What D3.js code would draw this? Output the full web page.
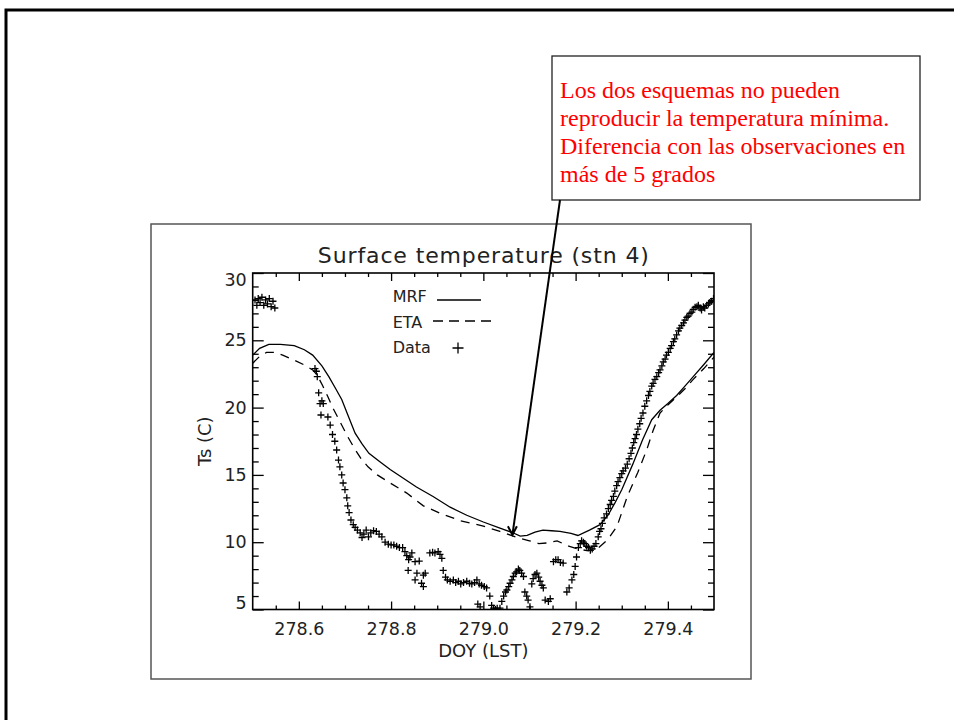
<!DOCTYPE html>
<html>
<head>
<meta charset="utf-8">
<script src="https://cdn.jsdelivr.net/npm/d3@7"></script>
<style>
body { margin: 0; background: #fff; }
.chart text { font-family: "DejaVu Sans", sans-serif; fill: #222; }
.chart .tick line { stroke: #000; stroke-width: 1.3; }
.chart .axis text { font-size: 17.5px; }
.chart .note text { font-family: "Liberation Serif", "Times New Roman", serif; fill: #ff0000; font-size: 24px; }
</style>
</head>
<body>
<div class="chart"></div>
<script>
// MRF model (solid)
var doyMRF = [278.500, 278.515, 278.535, 278.560, 278.590, 278.612, 278.630, 278.650, 278.665, 278.680,
  278.693, 278.708, 278.722, 278.737, 278.752, 278.775, 278.798, 278.820, 278.855, 278.891,
  278.928, 278.964, 279.000, 279.036, 279.064, 279.080, 279.095, 279.112, 279.129, 279.148,
  279.166, 279.190, 279.205, 279.230, 279.253, 279.270, 279.285, 279.300, 279.324, 279.345,
  279.365, 279.383, 279.400, 279.419, 279.437, 279.455, 279.478, 279.500];
var tsMRF = [23.9, 24.4, 24.7, 24.7, 24.6, 24.3, 23.9, 23.1, 22.3, 21.4,
  20.6, 19.3, 18.1, 17.3, 16.6, 16.0, 15.4, 14.9, 14.1, 13.4,
  12.6, 12.0, 11.5, 11.05, 10.7, 10.45, 10.5, 10.75, 10.9, 10.85,
  10.8, 10.65, 10.5, 10.9, 11.3, 12.0, 12.9, 13.9, 15.8, 17.6,
  19.1, 19.8, 20.3, 20.9, 21.6, 22.3, 23.2, 24.1];

// ETA model (dashed)
var doyETA = [278.500, 278.515, 278.530, 278.548, 278.565, 278.585, 278.610, 278.630, 278.640, 278.652,
  278.663, 278.675, 278.690, 278.705, 278.720, 278.735, 278.750, 278.770, 278.798, 278.834,
  278.870, 278.910, 278.950, 279.000, 279.036, 279.073, 279.100, 279.120, 279.140, 279.160,
  279.185, 279.205, 279.228, 279.250, 279.270, 279.290, 279.312, 279.335, 279.354, 279.368,
  279.383, 279.400, 279.419, 279.437, 279.455, 279.478, 279.500];
var tsETA = [23.3, 23.8, 24.1, 24.1, 23.9, 23.6, 23.2, 22.8, 22.4, 21.6,
  20.8, 19.9, 18.9, 17.9, 17.0, 16.2, 15.6, 15.0, 14.4, 13.65,
  12.7, 12.1, 11.6, 11.2, 10.8, 10.35, 10.1, 9.9, 9.95, 10.1,
  9.7, 9.5, 9.35, 9.6, 10.2, 11.2, 13.4, 15.2, 16.85, 18.3,
  19.6, 20.2, 20.8, 21.4, 22.1, 22.9, 23.75];

// observations (+)
var doyObs = [278.505, 278.509, 278.512, 278.516, 278.520, 278.524, 278.528, 278.532, 278.536, 278.540,
  278.544, 278.548, 278.635, 278.638, 278.640, 278.643, 278.646, 278.650, 278.653, 278.648,
  278.663, 278.668, 278.673, 278.678, 278.682, 278.686, 278.689, 278.693, 278.696, 278.700,
  278.704, 278.706, 278.709, 278.713, 278.718, 278.722, 278.727, 278.733, 278.737, 278.741,
  278.746, 278.751, 278.756, 278.762, 278.768, 278.774, 278.780, 278.787, 278.794, 278.800,
  278.806, 278.812, 278.818, 278.825, 278.830, 278.834, 278.838, 278.841, 278.837, 278.845,
  278.852, 278.856, 278.852, 278.861, 278.866, 278.870, 278.874, 278.870, 278.884, 278.890,
  278.895, 278.902, 278.906, 278.910, 278.913, 278.918, 278.922, 278.928, 278.935, 278.940,
  278.946, 278.951, 278.957, 278.964, 278.970, 278.975, 278.981, 278.986, 278.991, 278.996,
  279.002, 279.007, 279.014, 278.988, 278.993, 279.018, 279.022, 279.026, 279.030, 279.036,
  279.040, 279.044, 279.048, 279.051, 279.055, 279.058, 279.062, 279.065, 279.069, 279.072,
  279.076, 279.079, 279.083, 279.087, 279.090, 279.094, 279.097, 279.101, 279.105, 279.108,
  279.112, 279.116, 279.120, 279.123, 279.127, 279.130, 279.134, 279.141, 279.145, 279.152,
  279.157, 279.162, 279.167, 279.173, 279.181, 279.186, 279.192, 279.196, 279.199, 279.202,
  279.206, 279.210, 279.213, 279.217, 279.220, 279.224, 279.228, 279.232, 279.236, 279.240,
  279.244, 279.249, 279.252, 279.255, 279.258, 279.262, 279.267, 279.271, 279.275, 279.278,
  279.282, 279.285, 279.289, 279.292, 279.296, 279.300, 279.303, 279.308, 279.312, 279.316,
  279.320, 279.323, 279.326, 279.329, 279.332, 279.335, 279.339, 279.342, 279.346, 279.350,
  279.354, 279.358, 279.361, 279.365, 279.368, 279.372, 279.376, 279.380, 279.383, 279.387,
  279.390, 279.394, 279.397, 279.401, 279.405, 279.408, 279.412, 279.415, 279.419, 279.423,
  279.426, 279.430, 279.434, 279.437, 279.441, 279.444, 279.448, 279.452, 279.455, 279.459,
  279.463, 279.466, 279.470, 279.473, 279.477, 279.480, 279.484, 279.488, 279.491, 279.495,
  279.499];
var tsObs = [28.0, 27.6, 28.1, 27.8, 28.2, 27.6, 28.0, 27.7, 28.1, 27.5,
  27.9, 27.4, 22.9, 22.7, 22.3, 21.1, 20.3, 20.5, 20.3, 19.45,
  19.3, 18.7, 18.0, 17.5, 16.85, 16.1, 15.6, 15.0, 14.4, 13.9,
  13.3, 12.7, 12.2, 11.65, 11.3, 11.1, 10.9, 10.7, 10.35, 10.6,
  10.9, 10.4, 10.7, 10.85, 10.8, 10.6, 10.4, 10.0, 9.85, 9.8,
  9.8, 9.7, 9.6, 9.6, 9.3, 9.0, 8.7, 8.9, 7.9, 9.2,
  8.55, 7.7, 7.2, 8.6, 6.95, 7.55, 7.7, 6.7, 9.2, 9.25,
  9.2, 9.3, 9.1, 8.8, 7.9, 7.4, 7.2, 7.1, 7.2, 7.0,
  7.1, 6.9, 7.0, 7.1, 6.95, 6.9, 7.0, 7.2, 6.9, 6.8,
  6.7, 6.6, 6.0, 5.4, 5.2, 5.3, 5.1, 5.0, 5.1, 5.1,
  5.6, 6.0, 6.3, 6.45, 6.7, 6.95, 7.2, 7.45, 7.7, 7.8,
  8.0, 7.9, 7.7, 7.45, 6.3, 6.0, 5.7, 5.2, 6.9, 7.3,
  7.6, 7.7, 7.4, 7.1, 6.8, 6.6, 5.7, 5.6, 5.8, 8.55,
  8.7, 8.7, 8.5, 8.45, 6.3, 6.6, 7.2, 7.6, 8.2, 8.9,
  9.6, 9.9, 10.1, 10.0, 9.9, 9.7, 9.6, 9.4, 9.5, 9.7,
  9.9, 10.4, 10.8, 11.0, 11.4, 11.8, 12.1, 12.5, 12.8, 13.1,
  13.4, 13.8, 14.2, 14.5, 14.8, 15.1, 15.3, 15.5, 15.8, 16.2,
  16.6, 17.0, 17.4, 17.7, 18.0, 18.4, 18.8, 19.2, 19.6, 20.1,
  20.5, 20.9, 21.2, 21.6, 21.8, 22.1, 22.3, 22.6, 22.8, 23.1,
  23.4, 23.6, 23.9, 24.1, 24.4, 24.6, 24.9, 25.1, 25.4, 25.7,
  25.9, 26.1, 26.3, 26.5, 26.7, 26.8, 27.0, 27.1, 27.3, 27.45,
  27.5, 27.6, 27.4, 27.25, 27.5, 27.4, 27.6, 27.7, 27.8, 27.9,
  28.1];

var xTickValues = [278.6, 278.8, 279.0, 279.2, 279.4];
var yTickValues = [5, 10, 15, 20, 25, 30];
var legendLabels = ["MRF", "ETA", "Data"];
var titleText = "Surface temperature (stn 4)";
var xLabelText = "DOY (LST)";
var yLabelText = "Ts (C)";
var noteLines = ["Los dos esquemas no pueden",
  "reproducir la temperatura mínima.",
  "Diferencia con las observaciones en",
  "más de 5 grados"];
// point the arrow at the model minimum
var arrowTarget = [279.063, 10.55];

function drawChart() {
  var svg = d3.select(".chart").html("").append("svg")
      .attr("width", 954).attr("height", 720);

  svg.append("rect").attr("width", 954).attr("height", 720).attr("fill", "#fff");

  // outer slide frame
  svg.append("path")
      .attr("d", "M6,720V10H954")
      .attr("fill", "none").attr("stroke", "#000").attr("stroke-width", 3);

  // picture box
  svg.append("rect")
      .attr("x", 151).attr("y", 224).attr("width", 600).attr("height", 455)
      .attr("fill", "#fff").attr("stroke", "#555").attr("stroke-width", 1.5);

  var x = d3.scaleLinear().domain([278.5, 279.5]).range([252.7, 714]),
      y = d3.scaleLinear().domain([5, 30]).range([609.5, 273]);

  var x0 = x.range()[0], x1 = x.range()[1],
      y0 = y.range()[1], y1 = y.range()[0];

  var xMinor = d3.range(278.55, 279.5, 0.05).filter(function(d) {
        return Math.abs(Math.round(d * 5) - d * 5) > 0.01; }),
      yMinor = d3.range(6, 30, 1).filter(function(d) { return d % 5 !== 0; });

  function cleanAxis(g) { g.select(".domain").remove(); }

  // bottom
  svg.append("g").attr("class", "axis axis-x")
      .attr("transform", "translate(0," + y1 + ")")
      .call(d3.axisBottom(x).tickValues(xTickValues).tickFormat(d3.format(".1f"))
        .tickSizeInner(-8).tickSizeOuter(0).tickPadding(13))
      .call(cleanAxis);
  svg.append("g").attr("class", "axis")
      .attr("transform", "translate(0," + y1 + ")")
      .call(d3.axisBottom(x).tickValues(xMinor).tickFormat("").tickSizeInner(-4).tickSizeOuter(0))
      .call(cleanAxis);
  // top
  svg.append("g").attr("class", "axis")
      .attr("transform", "translate(0," + y0 + ")")
      .call(d3.axisTop(x).tickValues(xTickValues).tickFormat("").tickSizeInner(-8).tickSizeOuter(0))
      .call(cleanAxis);
  svg.append("g").attr("class", "axis")
      .attr("transform", "translate(0," + y0 + ")")
      .call(d3.axisTop(x).tickValues(xMinor).tickFormat("").tickSizeInner(-4).tickSizeOuter(0))
      .call(cleanAxis);
  // left
  svg.append("g").attr("class", "axis axis-y")
      .attr("transform", "translate(" + x0 + ",0)")
      .call(d3.axisLeft(y).tickValues(yTickValues).tickFormat(d3.format("d"))
        .tickSizeInner(-11).tickSizeOuter(0).tickPadding(6))
      .call(cleanAxis)
    .selectAll("text")
      .attr("dy", function(d) { return d === 30 ? "0.7em" : d === 5 ? "-0.05em" : "0.32em"; });
  svg.append("g").attr("class", "axis")
      .attr("transform", "translate(" + x0 + ",0)")
      .call(d3.axisLeft(y).tickValues(yMinor).tickFormat("").tickSizeInner(-6).tickSizeOuter(0))
      .call(cleanAxis);
  // right
  svg.append("g").attr("class", "axis")
      .attr("transform", "translate(" + x1 + ",0)")
      .call(d3.axisRight(y).tickValues(yTickValues).tickFormat("").tickSizeInner(-11).tickSizeOuter(0))
      .call(cleanAxis);
  svg.append("g").attr("class", "axis")
      .attr("transform", "translate(" + x1 + ",0)")
      .call(d3.axisRight(y).tickValues(yMinor).tickFormat("").tickSizeInner(-6).tickSizeOuter(0))
      .call(cleanAxis);

  svg.selectAll(".axis").attr("font-family", null).attr("font-size", null);

  svg.append("rect")
      .attr("x", x0).attr("y", y0).attr("width", x1 - x0).attr("height", y1 - y0)
      .attr("fill", "none").attr("stroke", "#000").attr("stroke-width", 1.6);

  svg.append("clipPath").attr("id", "plot-clip")
    .append("rect")
      .attr("x", x0).attr("y", y0).attr("width", x1 - x0).attr("height", y1 - y0);

  var plot = svg.append("g").attr("clip-path", "url(#plot-clip)");

  var line = d3.line()
      .x(function(d) { return x(d[0]); })
      .y(function(d) { return y(d[1]); });

  plot.append("path")
      .datum(d3.zip(doyMRF, tsMRF))
      .attr("d", line)
      .attr("fill", "none").attr("stroke", "#000").attr("stroke-width", 1.3);

  plot.append("path")
      .datum(d3.zip(doyETA, tsETA))
      .attr("d", line)
      .attr("fill", "none").attr("stroke", "#000").attr("stroke-width", 1.3)
      .attr("stroke-dasharray", "9,7");

  plot.selectAll(".obs")
    .data(d3.zip(doyObs, tsObs))
    .enter().append("path")
      .attr("class", "obs")
      .attr("transform", function(d) { return "translate(" + x(d[0]) + "," + y(d[1]) + ")"; })
      .attr("d", "M-3.5,0H3.5M0,-3.5V3.5")
      .attr("stroke", "#000").attr("stroke-width", 1.3);

  // legend
  var lg = svg.append("g").attr("class", "legend");
  lg.selectAll("text")
    .data(legendLabels)
    .enter().append("text")
      .attr("x", 392.7)
      .attr("y", function(d, i) { return 302 + i * 25.7; })
      .style("font-size", "16px")
      .text(function(d) { return d; });
  lg.append("line").attr("x1", 437).attr("x2", 481).attr("y1", 300).attr("y2", 300)
      .attr("stroke", "#000").attr("stroke-width", 1.3);
  lg.append("line").attr("x1", 433).attr("x2", 491).attr("y1", 321).attr("y2", 321)
      .attr("stroke", "#000").attr("stroke-width", 1.3).attr("stroke-dasharray", "10,6");
  lg.append("path").attr("transform", "translate(458,348)")
      .attr("d", "M-5.5,0H5.5M0,-5.5V5.5")
      .attr("stroke", "#000").attr("stroke-width", 1.3);

  // titles
  svg.append("text")
      .attr("x", (x0 + x1) / 2).attr("y", 263)
      .attr("text-anchor", "middle")
      .attr("textLength", 331).attr("lengthAdjust", "spacing")
      .style("font-size", "22px")
      .text(titleText);

  svg.append("text")
      .attr("x", (x0 + x1) / 2).attr("y", 657)
      .attr("text-anchor", "middle")
      .style("font-size", "18px")
      .text(xLabelText);

  svg.append("text")
      .attr("transform", "translate(211," + ((y0 + y1) / 2) + ") rotate(-90)")
      .attr("text-anchor", "middle")
      .style("font-size", "18px")
      .text(yLabelText);

  // annotation
  var note = svg.append("g").attr("class", "note");
  note.append("rect")
      .attr("x", 552).attr("y", 56).attr("width", 368).attr("height", 144)
      .attr("fill", "#fff").attr("stroke", "#222").attr("stroke-width", 1.3);
  note.selectAll("text")
    .data(noteLines)
    .enter().append("text")
      .attr("x", 560)
      .attr("y", function(d, i) { return 97.5 + i * 28.2; })
      .text(function(d) { return d; });

  var tx = x(arrowTarget[0]), ty = y(arrowTarget[1]);
  note.append("line")
      .attr("x1", 560).attr("y1", 200).attr("x2", tx).attr("y2", ty)
      .attr("stroke", "#000").attr("stroke-width", 2);
  note.append("path")
      .attr("d", "M" + (tx - 4.5) + "," + (ty - 8.5) + "L" + tx + "," + ty + "L" + (tx + 4.5) + "," + (ty - 8.5))
      .attr("fill", "none").attr("stroke", "#000").attr("stroke-width", 2);
}

drawChart();
</script>
</body>
</html>
